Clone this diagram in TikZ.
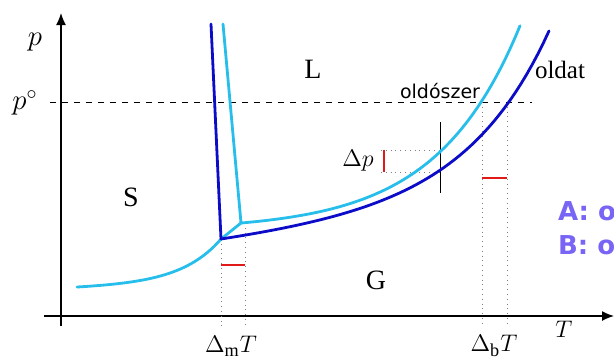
\documentclass[tikz,border=0pt]{standalone}
\usepackage{fontspec}
\setmainfont{Liberation Serif}
\newfontfamily\labelsans{DejaVu Sans}
\usetikzlibrary{arrows.meta}

\definecolor{solvent}{RGB}{40,190,235}
\definecolor{solution}{RGB}{12,12,200}
\definecolor{marker}{RGB}{225,25,25}
\definecolor{legendcol}{RGB}{120,100,245}

\begin{document}
\begin{tikzpicture}[
x=0.5pt, y=-0.5pt,
axis/.style={line width=0.7pt, -{Latex[length=6pt,width=5pt]}},
phase/.style={font=\fontsize{14}{16}\selectfont},
mathlbl/.style={font=\fontsize{13}{15}\selectfont},
solv/.style={solvent, line width=1.4pt, line join=round, line cap=round},
soln/.style={solution, line width=1.4pt, line join=round, line cap=round},
guide/.style={gray, dotted, line width=0.4pt},
bar/.style={marker, line width=1.4pt},
legendtxt/.style={legendcol, font=\labelsans\bfseries\fontsize{13}{15}\selectfont, anchor=west},
>=Latex
]
\clip (0,0) rectangle (614,361);

% axes
\coordinate (ytop) at (61,13);
\coordinate (ybot) at (61,326);
\coordinate (xleft) at (44,316);
\coordinate (xright) at (614,316);
\draw[axis] (ybot) -- (ytop);
\draw[axis] (xleft) -- (xright);
\node[font=\fontsize{14}{16}\selectfont] (plbl) at (35,42) {$p$};
\node[font=\fontsize{14}{16}\selectfont] (p0lbl) at (25,103) {$p^\circ$};
\node[mathlbl] (tlbl) at (564,329) {$T$};

% standard pressure
\coordinate (pl) at (50,102);
\coordinate (pr) at (532,102);
\draw[dashed, line width=0.5pt] (pl) -- (pr);

% triple points and boiling points
\coordinate (tpA) at (241,223);
\coordinate (tpB) at (221,239);
\coordinate (bpA) at (482,102);
\coordinate (bpB) at (507,102);

% guide lines
\draw[guide] (tpB) -- (221,326);
\draw[guide] (245,223) -- (245,326);
\draw[guide] (bpA) -- (482,326);
\draw[guide] (bpB) -- (507,326);
\draw[guide] (381,150) -- (440,150);
\draw[guide] (381,172) -- (440,172);
\draw[line width=0.5pt] (440,122) -- (440,193);

% solvent
\draw[solv] (223,24) -- (tpA);
\draw[solv] plot[domain=77:221, samples=40] (\x, {287-1.235*(exp(0.025*(\x-77))-1)-0.028*(\x-77)}) -- (tpA);
\draw[solv] plot[domain=241:520, samples=60] (\x, {223-7.2*(exp(0.012*(\x-241))-1)});

% solution
\draw[soln] (211,24) -- (tpB);
\draw[soln] plot[domain=221:549, samples=60] (\x, {239-3.4*(exp(0.012*(\x-221))-1)-0.115*(\x-221)});

% differences
\draw[bar] (221,265) -- (245,265);
\draw[bar] (482,178) -- (507,178);
\draw[bar] (384,150) -- (384,172);

% labels
\node[phase] (liq) at (313,69) {L};
\node[phase] (sol) at (131,197) {S};
\node[phase] (gas) at (376,280) {G};
\node[font=\fontsize{12.5}{14}\selectfont] (oldat) at (560,70) {oldat};
\node[font=\labelsans\fontsize{9.5}{11}\selectfont, anchor=base] (oldoszer) at (440,98) {oldószer};
\node[mathlbl] (dp) at (358,161) {$\Delta p$};
\node[mathlbl] (dmT) at (231,346) {$\Delta_{\mathrm{m}}T$};
\node[mathlbl] (dbT) at (494,346) {$\Delta_{\mathrm{b}}T$};
\node[legendtxt] (legA) at (551,211) {A: o};
\node[legendtxt] (legB) at (551,245) {B: o};
\end{tikzpicture}
\end{document}
